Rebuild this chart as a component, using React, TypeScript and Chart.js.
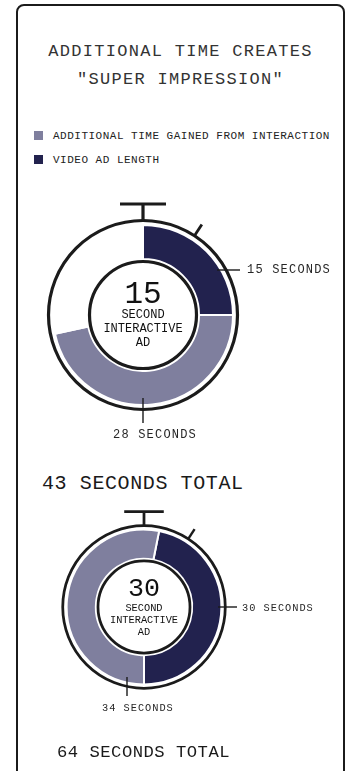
import React, { useEffect, useRef } from 'react';
import { Chart, registerables } from 'chart.js';

Chart.register(...registerables);

// ---------- data ----------
const TITLE_LINES = ['ADDITIONAL TIME CREATES', '"SUPER IMPRESSION"'];
const SERIES_LABELS = ['VIDEO AD LENGTH', 'ADDITIONAL TIME GAINED FROM INTERACTION'];
const LEGEND_ORDER = [1, 0];
const AD_LENGTHS = [15, 30];
const VIDEO_SECONDS = [15, 30];
const EXTRA_SECONDS = [28, 34];
const TOTAL_SECONDS = [43, 64];
const DIAL_SECONDS = 60;

// ---------- style ----------
const VIDEO_COLOR = '#22224e';
const EXTRA_COLOR = '#7f7f9e';
const INK = '#1b1b1b';
const TEXT = '#262626';
const FONT = '"Liberation Mono", "DejaVu Sans Mono", monospace';

const stopwatchPlugin = {
  id: 'stopwatch',
  afterDatasetsDraw(chart: any, _args: any, opts: any) {
    const arc = chart.getDatasetMeta(0).data[0];
    if (!arc) return;
    const { x, y } = arc;
    const s = opts.scale;
    const ctx = chart.ctx;
    ctx.save();
    ctx.strokeStyle = INK;
    ctx.lineCap = 'butt';
    // outer rim
    ctx.lineWidth = 3.2 * s;
    const rOut = 94.5 * s;
    ctx.beginPath();
    ctx.arc(x, y, rOut, 0, Math.PI * 2);
    ctx.stroke();
    // inner face
    ctx.lineWidth = 3.2 * s;
    ctx.beginPath();
    ctx.arc(x, y, 53.5 * s, 0, Math.PI * 2);
    ctx.stroke();
    // stem + crown
    ctx.lineWidth = 3.2 * s;
    ctx.beginPath();
    ctx.moveTo(x, y - rOut);
    ctx.lineTo(x, y - 111 * s);
    ctx.moveTo(x - 23 * s, y - 111 * s);
    ctx.lineTo(x + 23 * s, y - 111 * s);
    ctx.stroke();
    // side button
    const a = (33 * Math.PI) / 180;
    ctx.lineWidth = 2.8 * s;
    ctx.beginPath();
    ctx.moveTo(x + Math.sin(a) * rOut, y - Math.cos(a) * rOut);
    ctx.lineTo(x + Math.sin(a) * 108 * s, y - Math.cos(a) * 108 * s);
    ctx.stroke();
    // leader lines
    ctx.lineWidth = 1.4;
    for (const l of opts.leaders) {
      ctx.beginPath();
      ctx.moveTo(x + l[0], y + l[1]);
      ctx.lineTo(x + l[2], y + l[3]);
      ctx.stroke();
    }
    ctx.restore();
  },
};

type WatchProps = {
  idx: number;
  cx: number;
  cy: number;
  s: number;
  rotation: number;
  leaders: number[][];
};

function Watch({ idx, cx, cy, s, rotation, leaders }: WatchProps) {
  const ref = useRef<HTMLCanvasElement>(null);
  const size = Math.round(240 * s);
  useEffect(() => {
    if (!ref.current) return;
    const video = VIDEO_SECONDS[idx];
    const extra = EXTRA_SECONDS[idx];
    const rest = Math.max(DIAL_SECONDS - video - extra, 0);
    const values = rest > 0 ? [video, extra, rest] : [video, extra];
    const chart = new Chart(ref.current, {
      type: 'doughnut',
      data: {
        labels: rest > 0 ? [SERIES_LABELS[0], SERIES_LABELS[1], ''] : SERIES_LABELS,
        datasets: [
          {
            data: values,
            backgroundColor: [VIDEO_COLOR, EXTRA_COLOR, 'rgba(0,0,0,0)'],
            borderColor: '#ffffff',
            borderWidth: 2,
          },
        ],
      },
      options: {
        animation: false,
        responsive: false,
        events: [],
        radius: 90 * s,
        cutout: (56 / 90) * 100 + '%',
        rotation,
        layout: { padding: 0 },
        plugins: {
          legend: { display: false },
          tooltip: { enabled: false },
          stopwatch: { scale: s, leaders },
        } as any,
      } as any,
      plugins: [stopwatchPlugin],
    });
    return () => chart.destroy();
  }, [idx, s, rotation]);
  return (
    <canvas
      ref={ref}
      width={size}
      height={size}
      style={{ position: 'absolute', left: cx - size / 2, top: cy - size / 2, width: size, height: size }}
    />
  );
}

function Txt({
  text,
  x,
  y,
  size,
  align = 'left',
  spacing = 0,
  color = TEXT,
  width = 300,
}: {
  text: string;
  x: number;
  y: number;
  size: number;
  align?: 'left' | 'center';
  spacing?: number;
  color?: string;
  width?: number;
}) {
  const lh = Math.round(size * 1.4);
  const top = y - lh / 2 + 0.06 * size;
  const style: React.CSSProperties = {
    position: 'absolute',
    top,
    height: lh,
    lineHeight: lh + 'px',
    fontSize: size,
    fontFamily: FONT,
    letterSpacing: spacing,
    color,
    whiteSpace: 'nowrap',
  };
  if (align === 'center') {
    style.left = x - width / 2;
    style.width = width;
    style.textAlign = 'center';
  } else {
    style.left = x;
  }
  return <div style={style}>{text}</div>;
}

function CenterText({ idx, cx, cy, s }: { idx: number; cx: number; cy: number; s: number }) {
  return (
    <>
      <Txt text={String(AD_LENGTHS[idx])} x={cx} y={cy - 22 * s} size={31 * s} align="center" width={120} color="#111" />
      <Txt text="SECOND" x={cx} y={cy} size={12 * s} align="center" width={120} color="#111" />
      <Txt text="INTERACTIVE" x={cx} y={cy + 14 * s} size={12 * s} align="center" width={120} color="#111" />
      <Txt text="AD" x={cx} y={cy + 28 * s} size={12 * s} align="center" width={120} color="#111" />
    </>
  );
}

export default function App() {
  const c1 = { cx: 143, cy: 315, s: 1 };
  const c2 = { cx: 144, cy: 607, s: 0.86 };
  const rot2 = 180 - (360 * VIDEO_SECONDS[1]) / (VIDEO_SECONDS[1] + EXTRA_SECONDS[1]);
  return (
    <div
      style={{
        position: 'fixed',
        left: 0,
        top: 0,
        width: 347,
        height: 771,
        background: '#fff',
        overflow: 'hidden',
      }}
    >
      <div
        style={{
          position: 'absolute',
          left: 16,
          top: 4,
          width: 329,
          height: 820,
          border: '2px solid ' + INK,
          borderRadius: 8,
          boxSizing: 'border-box',
        }}
      />
      <Txt text={TITLE_LINES[0]} x={180.5} y={51} size={17} spacing={1.3} align="center" width={329} color="#333" />
      <Txt text={TITLE_LINES[1]} x={180.5} y={79} size={17} spacing={1.3} align="center" width={329} color="#333" />

      {LEGEND_ORDER.map((si, i) => (
        <React.Fragment key={si}>
          <div
            style={{
              position: 'absolute',
              left: 34,
              top: 131 + i * 24,
              width: 9,
              height: 9,
              background: si === 0 ? VIDEO_COLOR : EXTRA_COLOR,
            }}
          />
          <Txt text={SERIES_LABELS[si]} x={53} y={135.5 + i * 24} size={11} spacing={0.5} color="#222" />
        </React.Fragment>
      ))}

      <Watch idx={0} cx={c1.cx} cy={c1.cy} s={c1.s} rotation={0} leaders={[[74, -45, 97, -45], [0, 83, 0, 108]]} />
      <CenterText idx={0} {...c1} />
      <Txt text={VIDEO_SECONDS[0] + ' SECONDS'} x={247} y={270} size={12} spacing={1.2} />
      <Txt text={EXTRA_SECONDS[0] + ' SECONDS'} x={113} y={435} size={12} spacing={1.2} />
      <Txt text={TOTAL_SECONDS[0] + ' SECONDS TOTAL'} x={42} y={483} size={20} spacing={0.6} color="#1a1a1a" />

      <Watch idx={1} cx={c2.cx} cy={c2.cy} s={c2.s} rotation={rot2} leaders={[[74, 0, 93, 0], [-17, 70, -17, 89]]} />
      <CenterText idx={1} {...c2} />
      <Txt text={VIDEO_SECONDS[1] + ' SECONDS'} x={242} y={607} size={10.3} spacing={1.0} />
      <Txt text={EXTRA_SECONDS[1] + ' SECONDS'} x={102} y={707} size={10.3} spacing={1.0} />
      <Txt text={TOTAL_SECONDS[1] + ' SECONDS TOTAL'} x={57} y={752} size={17.2} spacing={0.5} color="#1a1a1a" />
    </div>
  );
}
